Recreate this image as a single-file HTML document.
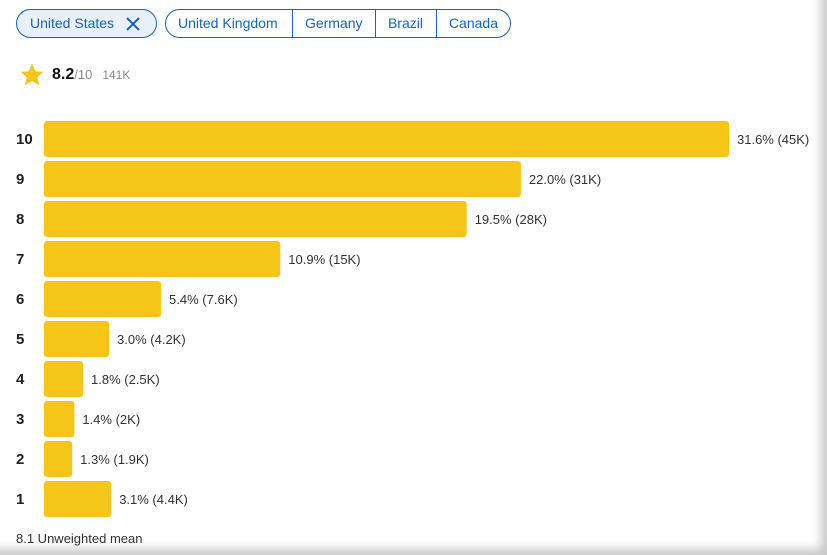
<!DOCTYPE html>
<html><head><meta charset="utf-8"><style>
body{margin:0;width:827px;height:555px;overflow:hidden;background:#fff;font-family:"Liberation Sans",sans-serif;position:relative}
.frame{position:absolute;inset:0;box-shadow:inset -10px -10px 10px -4px rgba(0,0,0,0.22);pointer-events:none}
.chip{position:absolute;top:9px;height:27px;border:1px solid #1565c0;border-radius:15px;color:#1565c0;font-size:14px;line-height:27px;box-sizing:content-box}
.grp{display:flex;overflow:hidden}
.grp div{padding:0 12px;border-right:1px solid #1565c0}
.grp div:last-child{border-right:none}
</style></head><body>
<div class="chip" style="left:16px;width:139px;background:#e9f0fa">
 <span style="margin-left:13px">United States</span>
 <svg width="14" height="14" style="position:absolute;left:109px;top:7px"><path d="M1 1L13 13M13 1L1 13" stroke="#1565c0" stroke-width="2"/></svg>
</div>
<div class="chip grp" style="left:165px;width:344px">
 <div style="width:102px">United Kingdom</div>
 <div style="width:58px">Germany</div>
 <div style="width:36px">Brazil</div>
 <div>Canada</div>
</div>
<svg width="26" height="26" style="position:absolute;left:19px;top:62px" viewBox="0 0 24 24"><path d="M12 1.5l3.1 7 7.4.6-5.6 4.9 1.7 7.4L12 17.5l-6.6 3.9 1.7-7.4L1.5 9.1l7.4-.6z" fill="#f5c518"/></svg>
<div style="position:absolute;left:52px;top:66px;font-size:14px">
 <b style="font-size:16px;color:#111">8.2</b><span style="color:#888;font-size:13px">/10</span><span style="color:#888;font-size:12px;margin-left:10px">141K</span>
</div>
<svg id="chart" width="827" height="520" style="position:absolute;left:0;top:0"></svg>
<div style="position:absolute;left:16px;top:531px;font-size:13px;color:#333">8.1 Unweighted mean</div>
<div class="frame"></div>
<script>
const ratings=[10,9,8,7,6,5,4,3,2,1];
const percents=[31.6,22.0,19.5,10.9,5.4,3.0,1.8,1.4,1.3,3.1];
const counts=["45K","31K","28K","15K","7.6K","4.2K","2.5K","2K","1.9K","4.4K"];
const svg=document.getElementById('chart');
const NS='http://www.w3.org/2000/svg';
const x0=44, pxPer=(729-44)/31.6;
const xs=v=>v*pxPer;
const yc=i=>139+i*40;
ratings.forEach((r,i)=>{
 const w=xs(percents[i]);
 const t=document.createElementNS(NS,'text');
 
 
 t.setAttribute('x',16);t.setAttribute('y',yc(i)+5);
 t.setAttribute('font-size','15');t.setAttribute('font-weight','bold');t.setAttribute('fill','#222');
 t.textContent=r;svg.appendChild(t);
 const b=document.createElementNS(NS,'rect');
 
 
 b.setAttribute('x',x0);b.setAttribute('y',yc(i)-18);b.setAttribute('width',w);b.setAttribute('height',36);
 b.setAttribute('rx',3);b.setAttribute('fill','#f5c518');svg.appendChild(b);
 const v=document.createElementNS(NS,'text');
 
 
 v.setAttribute('x',x0+w+8);v.setAttribute('y',yc(i)+5);
 v.setAttribute('font-size','13');v.setAttribute('fill','#333');
 v.textContent=percents[i].toFixed(1)+'% ('+counts[i]+')';svg.appendChild(v);
});
</script>
</body></html>
